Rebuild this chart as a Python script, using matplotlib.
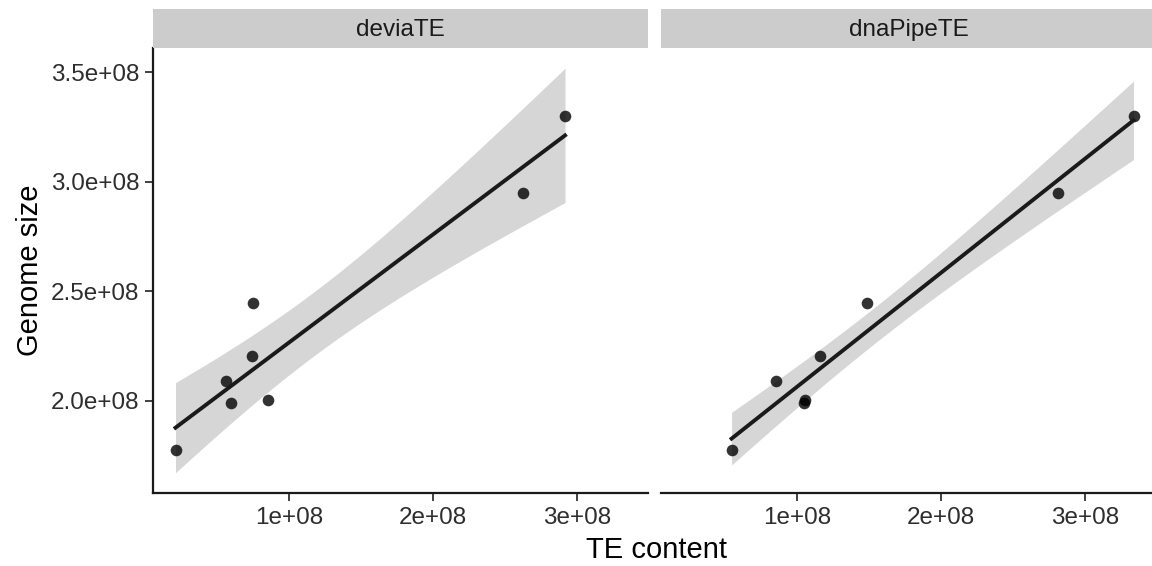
import numpy as np
import matplotlib
matplotlib.use('Agg')
import matplotlib.pyplot as plt

plt.rcParams['font.family'] = ['Liberation Sans', 'DejaVu Sans']

# genome size (same species in both panels)
genome_size = [1.776e8, 2.088e8, 1.988e8, 2.202e8, 2.444e8, 2.005e8, 2.948e8, 3.298e8]
# TE content estimated by each tool
te_deviate = [0.211e8, 0.564e8, 0.594e8, 0.745e8, 0.747e8, 0.854e8, 2.627e8, 2.917e8]
te_dnapipete = [0.545e8, 0.851e8, 1.048e8, 1.162e8, 1.484e8, 1.058e8, 2.815e8, 3.337e8]

panels = ['deviaTE', 'dnaPipeTE']
x_ticks = [1e8, 2e8, 3e8]
x_labels = ['1e+08', '2e+08', '3e+08']
y_ticks = [2.0e8, 2.5e8, 3.0e8, 3.5e8]
y_labels = ['2.0e+08', '2.5e+08', '3.0e+08', '3.5e+08']

T975_DF6 = 2.446912  # qt(0.975, 6)


def lm_fit(x, y, n_pts=80):
    x = np.asarray(x)
    y = np.asarray(y)
    n = len(x)
    b1, b0 = np.polyfit(x, y, 1)
    resid = y - (b0 + b1 * x)
    s = np.sqrt(np.sum(resid ** 2) / (n - 2))
    sxx = np.sum((x - x.mean()) ** 2)
    xs = np.linspace(x.min(), x.max(), n_pts)
    fit = b0 + b1 * xs
    se = s * np.sqrt(1.0 / n + (xs - x.mean()) ** 2 / sxx)
    return xs, fit, fit - T975_DF6 * se, fit + T975_DF6 * se


fits = [lm_fit(te_deviate, genome_size), lm_fit(te_dnapipete, genome_size)]

# shared scales with 5% expansion like ggplot
all_x = np.concatenate([te_deviate, te_dnapipete])
xr = all_x.max() - all_x.min()
xlim = (all_x.min() - 0.05 * xr, all_x.max() + 0.05 * xr)
y_lo = min(min(genome_size), min(f[2].min() for f in fits))
y_hi = max(max(genome_size), max(f[3].max() for f in fits))
yr = y_hi - y_lo
ylim = (y_lo - 0.05 * yr, y_hi + 0.05 * yr)

W, H = 1152, 566
fig = plt.figure(figsize=(W / 100, H / 100), dpi=100)

panel_left = [153, 661]
panel_w = 495
top_px, bot_px = 48, 493
strip_top = 9

for i, name in enumerate(panels):
    xs_data = te_deviate if i == 0 else te_dnapipete
    ax = fig.add_axes([panel_left[i] / W, 1 - bot_px / H, panel_w / W, (bot_px - top_px) / H])
    xs, fit, lo, hi = fits[i]
    ax.fill_between(xs, lo, hi, color='#999999', alpha=0.4, linewidth=0, zorder=1)
    ax.scatter(xs_data, genome_size, s=70, color='black', alpha=0.8, linewidths=0, zorder=2)
    ax.plot(xs, fit, color='#1a1a1a', linewidth=2.8, zorder=3)

    ax.set_xlim(xlim)
    ax.set_ylim(ylim)
    ax.set_xticks(x_ticks)
    ax.set_xticklabels(x_labels)
    ax.set_yticks(y_ticks)
    ax.set_yticklabels(y_labels)
    for side in ['top', 'right']:
        ax.spines[side].set_visible(False)
    for side in ['left', 'bottom']:
        ax.spines[side].set_linewidth(1.6)
        ax.spines[side].set_color('#1a1a1a')
    ax.tick_params(axis='both', length=6, width=1.3, color='#333333',
                   labelsize=17.5, labelcolor='#2e2e2e', pad=4)
    if i == 1:
        ax.spines['left'].set_visible(False)
        ax.tick_params(axis='y', left=False, labelleft=False)

    strip = fig.add_axes([panel_left[i] / W, 1 - top_px / H, panel_w / W, (top_px - strip_top) / H])
    strip.set_facecolor('#cccccc')
    strip.set_xticks([])
    strip.set_yticks([])
    for sp in strip.spines.values():
        sp.set_visible(False)
    strip.text(0.5, 0.47, name, ha='center', va='center', fontsize=17.5, color='#1a1a1a',
               transform=strip.transAxes)

fig.text(657 / W, 1 - 550 / H, 'TE content', ha='center', va='center', fontsize=21)
fig.text(30 / W, 1 - 270 / H, 'Genome size', ha='center', va='center', rotation=90, fontsize=21)

fig.savefig('out.png', dpi=100)
